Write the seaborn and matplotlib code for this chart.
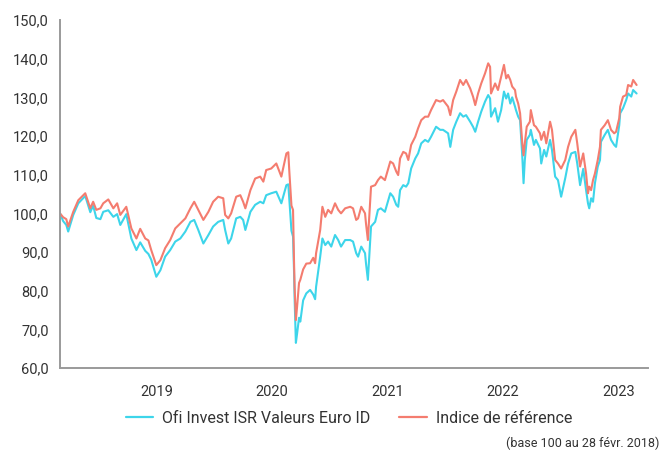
import numpy as np
import pandas as pd
import seaborn as sns
import matplotlib
matplotlib.use("Agg")
from matplotlib import pyplot as plt
import matplotlib.ticker as ticker

# values (base 100 au 28 févr. 2018)
dates = [
    "2018-02-28", "2018-03-10", "2018-03-20", "2018-03-26", "2018-04-11", "2018-04-27",
    "2018-05-19", "2018-06-04", "2018-06-13", "2018-06-23", "2018-07-06", "2018-07-15",
    "2018-07-31", "2018-08-16", "2018-08-28", "2018-09-07", "2018-09-26", "2018-10-12",
    "2018-10-28", "2018-11-09", "2018-11-25", "2018-12-05", "2018-12-14", "2018-12-30",
    "2019-01-12", "2019-01-27", "2019-02-12", "2019-02-28", "2019-03-16", "2019-04-01",
    "2019-04-17", "2019-04-29", "2019-05-12", "2019-05-28", "2019-06-13", "2019-06-28",
    "2019-07-14", "2019-07-30", "2019-08-05", "2019-08-15", "2019-08-24", "2019-09-09",
    "2019-09-22", "2019-10-01", "2019-10-08", "2019-10-24", "2019-11-08", "2019-11-24",
    "2019-12-04", "2019-12-13", "2019-12-29", "2020-01-14", "2020-01-30", "2020-02-15",
    "2020-02-21", "2020-02-24", "2020-03-02", "2020-03-07", "2020-03-10", "2020-03-12",
    "2020-03-16", "2020-03-20", "2020-03-26", "2020-03-30", "2020-04-08", "2020-04-18",
    "2020-04-30", "2020-05-10", "2020-05-16", "2020-05-19", "2020-06-01", "2020-06-08",
    "2020-06-17", "2020-06-26", "2020-07-06", "2020-07-18", "2020-07-28", "2020-08-06",
    "2020-08-19", "2020-09-04", "2020-09-13", "2020-09-23", "2020-09-29", "2020-10-09",
    "2020-10-21", "2020-10-24", "2020-10-30", "2020-11-09", "2020-11-22", "2020-12-01",
    "2020-12-10", "2020-12-23", "2021-01-09", "2021-01-18", "2021-01-28", "2021-02-03",
    "2021-02-09", "2021-02-19", "2021-02-28", "2021-03-07", "2021-03-16", "2021-03-29",
    "2021-04-07", "2021-04-17", "2021-04-29", "2021-05-09", "2021-05-18", "2021-06-03",
    "2021-06-16", "2021-06-25", "2021-07-11", "2021-07-18", "2021-07-27", "2021-08-06",
    "2021-08-18", "2021-08-28", "2021-09-06", "2021-09-19", "2021-09-28", "2021-10-05",
    "2021-10-14", "2021-10-24", "2021-11-05", "2021-11-15", "2021-11-21", "2021-11-24",
    "2021-12-07", "2021-12-16", "2021-12-26", "2022-01-04", "2022-01-11", "2022-01-17",
    "2022-01-24", "2022-01-30", "2022-02-08", "2022-02-11", "2022-02-18", "2022-02-24",
    "2022-03-03", "2022-03-07", "2022-03-11", "2022-03-17", "2022-03-27", "2022-03-30",
    "2022-04-09", "2022-04-15", "2022-04-28", "2022-05-02", "2022-05-11", "2022-05-18",
    "2022-05-30", "2022-06-05", "2022-06-15", "2022-06-24", "2022-07-04", "2022-07-17",
    "2022-07-26", "2022-08-05", "2022-08-18", "2022-08-24", "2022-09-02", "2022-09-12",
    "2022-09-18", "2022-09-21", "2022-09-27", "2022-10-01", "2022-10-07", "2022-10-13",
    "2022-10-19", "2022-10-28", "2022-11-04", "2022-11-07", "2022-11-19", "2022-11-29",
    "2022-12-09", "2022-12-19", "2022-12-25", "2023-01-04", "2023-01-07", "2023-01-16",
    "2023-01-26", "2023-02-01", "2023-02-11", "2023-02-17", "2023-02-28",
]

fund = [
    100.0, 98.0, 97.0, 95.3, 99.6, 102.6,
    104.5, 100.3, 102.0, 98.8, 98.5, 100.4,
    100.8, 99.1, 99.8, 97.0, 99.8, 93.5,
    90.5, 92.5, 90.3, 89.5, 88.0, 83.6,
    85.3, 88.8, 90.5, 92.7, 93.5, 95.3,
    97.8, 98.3, 95.7, 92.2, 94.4, 96.6,
    97.8, 98.3, 95.7, 92.2, 93.5, 98.7,
    99.1, 98.3, 95.7, 100.4, 102.2, 103.0,
    102.6, 104.7, 105.2, 105.6, 102.6, 107.3,
    107.5, 104.0, 95.5, 94.0, 85.5, 78.0,
    66.5, 69.0, 73.0, 72.0, 77.5, 79.3,
    80.2, 79.0, 77.8, 81.0, 88.8, 93.5,
    91.8, 92.7, 91.4, 94.4, 93.1, 91.4,
    93.1, 93.1, 92.7, 89.7, 88.8, 91.4,
    89.7, 87.1, 82.8, 96.6, 97.8, 100.9,
    101.3, 100.4, 105.2, 104.3, 102.2, 101.7,
    106.0, 107.3, 106.9, 107.8, 111.6, 114.2,
    115.5, 118.1, 119.0, 118.5, 119.8, 122.4,
    121.6, 121.6, 120.7, 117.2, 121.6, 123.7,
    125.9, 125.0, 125.4, 123.7, 122.4, 121.1,
    123.7, 126.3, 128.9, 130.6, 129.7, 125.0,
    127.2, 123.7, 126.7, 131.5, 129.7, 131.0,
    128.4, 130.0, 127.6, 126.7, 125.0, 124.1,
    114.7, 107.8, 113.8, 119.0, 120.3, 121.6,
    117.7, 119.0, 116.8, 112.9, 116.4, 114.7,
    119.0, 116.4, 109.5, 108.6, 104.3, 109.1,
    112.9, 115.5, 115.9, 112.9, 107.3, 111.5,
    107.8, 106.0, 102.6, 101.3, 103.9, 103.0,
    107.8, 112.1, 113.8, 118.5, 120.3, 121.6,
    119.0, 117.7, 117.2, 122.8, 125.9, 127.2,
    129.3, 131.0, 130.2, 131.9, 131.0,
]

benchmark = [
    100.0, 99.0, 98.5, 96.6, 100.4, 103.4,
    105.2, 101.3, 103.0, 100.9, 101.3, 102.6,
    103.6, 101.3, 102.6, 99.6, 101.7, 96.1,
    93.5, 96.0, 93.5, 93.0, 90.5, 86.6,
    87.9, 91.0, 93.1, 96.1, 97.4, 98.7,
    101.3, 103.0, 100.9, 98.3, 100.4, 103.0,
    104.3, 103.9, 99.6, 98.7, 100.0, 104.3,
    104.7, 103.0, 101.3, 106.0, 109.0, 109.5,
    108.2, 111.2, 111.6, 112.9, 109.5, 115.5,
    115.8, 111.2, 102.0, 100.9, 88.0, 81.0,
    72.4, 76.0, 82.0, 82.8, 85.5, 87.0,
    87.1, 88.5, 87.1, 89.7, 95.7, 101.7,
    99.1, 100.9, 100.0, 102.6, 100.9, 100.0,
    101.3, 101.7, 101.3, 98.3, 98.7, 101.7,
    100.0, 97.4, 93.1, 106.9, 107.3, 108.6,
    109.5, 108.6, 113.4, 112.9, 110.8, 109.9,
    114.2, 115.9, 115.5, 113.8, 117.7, 119.8,
    122.0, 124.1, 125.0, 125.0, 126.7, 129.3,
    128.9, 129.3, 127.6, 125.4, 129.3, 131.5,
    134.5, 133.2, 134.5, 132.3, 130.2, 128.0,
    131.0, 133.6, 136.2, 138.8, 137.9, 131.0,
    133.6, 131.9, 135.3, 138.4, 134.9, 135.8,
    134.5, 132.8, 131.9, 130.2, 128.4, 125.9,
    118.1, 115.0, 118.1, 122.4, 123.7, 126.7,
    122.8, 122.4, 120.7, 119.0, 121.1, 118.1,
    123.7, 121.6, 113.8, 112.9, 111.6, 113.8,
    117.2, 119.8, 121.6, 118.1, 112.1, 115.5,
    112.1, 110.3, 105.2, 106.9, 106.0, 108.6,
    110.3, 113.8, 117.2, 121.6, 122.8, 124.1,
    121.6, 120.7, 121.1, 124.6, 127.6, 130.2,
    130.6, 133.2, 132.8, 134.5, 133.2,
]

series_names = ["Ofi Invest ISR Valeurs Euro ID", "Indice de référence"]
colors = ["#3DD5EA", "#F47C6F"]
years = ["2019", "2020", "2021", "2022", "2023"]
note = "(base 100 au 28 févr. 2018)"

df = pd.DataFrame({"date": pd.to_datetime(dates), series_names[0]: fund, series_names[1]: benchmark})
long_df = df.melt(id_vars="date", var_name="serie", value_name="valeur")

sns.set_style("white")
plt.rcParams["font.family"] = ["Roboto", "DejaVu Sans"]

fig = plt.figure(figsize=(6.65, 4.53), dpi=100)
ax = fig.add_axes([0.0902, 0.1876, 0.8842, 0.7682])

sns.lineplot(data=long_df, x="date", y="valeur", hue="serie", hue_order=series_names,
             palette=colors, linewidth=1.5, ax=ax, legend=False)

ax.set_xlim(pd.Timestamp("2018-02-28"), pd.Timestamp("2023-04-05"))
ax.set_ylim(60, 150)
ax.yaxis.set_major_locator(ticker.MultipleLocator(10))
ax.yaxis.set_major_formatter(ticker.FuncFormatter(lambda v, p: ("%.1f" % v).replace(".", ",")))
ax.set_xticks([pd.Timestamp(y + "-01-01") for y in years])
ax.set_xticklabels(years)
ax.set_xlabel("")
ax.set_ylabel("")

for side in ["top", "right"]:
    ax.spines[side].set_visible(False)
for side in ["left", "bottom"]:
    ax.spines[side].set_color("#9a9a9a")
    ax.spines[side].set_linewidth(1.4)
ax.tick_params(axis="both", colors="#9a9a9a", length=4, width=1.2, labelsize=10.5,
               labelcolor="#333333", pad=4)
ax.tick_params(axis="x", pad=8)

handles = [plt.Line2D([], [], color=c, linewidth=1.6) for c in colors]
fig.legend(handles, series_names, loc="center", bbox_to_anchor=(0.525, 0.077), ncol=2,
           frameon=False, fontsize=11.5, handlelength=1.7, columnspacing=1.8,
           handletextpad=0.6, labelcolor="#333333")

fig.text(0.992, 0.022, note, ha="right", va="center", fontsize=9, color="#333333")

fig.savefig("out.png", dpi=100)
